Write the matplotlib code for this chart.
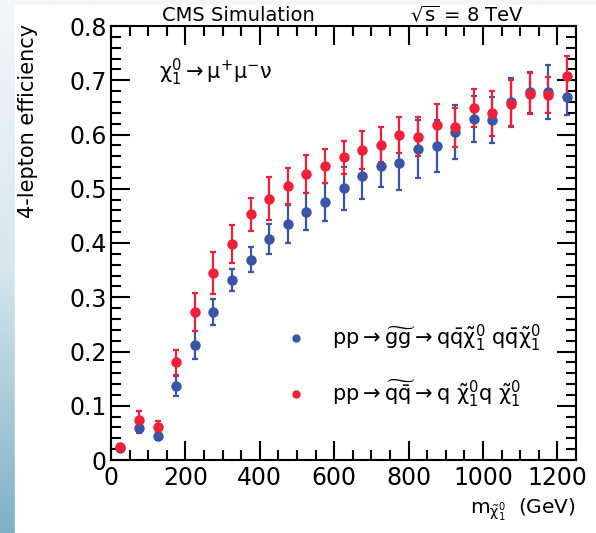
# 4-lepton efficiency vs neutralino mass, CMS simulation style

import numpy as np
import matplotlib.pyplot as plt
from matplotlib.lines import Line2D
from matplotlib.patches import Rectangle
from matplotlib.colors import LinearSegmentedColormap
from matplotlib.ticker import MultipleLocator

plt.rcParams['font.family'] = ['DejaVu Sans']
plt.rcParams['mathtext.fontset'] = 'dejavusans'
plt.rcParams['mathtext.default'] = 'regular'

mass = [25, 75, 125, 175, 225, 275, 325, 375, 425, 475, 525, 575, 625,
        675, 725, 775, 825, 875, 925, 975, 1025, 1075, 1125, 1175, 1225]

eff_gluino = [0.022, 0.059, 0.044, 0.136, 0.212, 0.273, 0.332, 0.369, 0.407,
              0.435, 0.458, 0.476, 0.501, 0.523, 0.542, 0.547, 0.573, 0.578,
              0.604, 0.629, 0.627, 0.660, 0.678, 0.679, 0.669]
err_gluino = [0.005, 0.010, 0.008, 0.018, 0.025, 0.024, 0.020, 0.023, 0.028,
              0.035, 0.034, 0.035, 0.040, 0.041, 0.038, 0.049, 0.053, 0.048,
              0.050, 0.042, 0.042, 0.045, 0.038, 0.050, 0.033]

eff_squark = [0.024, 0.074, 0.060, 0.180, 0.273, 0.345, 0.399, 0.453, 0.482,
              0.505, 0.528, 0.542, 0.558, 0.571, 0.581, 0.599, 0.596, 0.617,
              0.613, 0.648, 0.639, 0.657, 0.675, 0.673, 0.708]
err_squark = [0.005, 0.016, 0.012, 0.023, 0.035, 0.039, 0.035, 0.030, 0.039,
              0.033, 0.035, 0.031, 0.030, 0.035, 0.032, 0.033, 0.036, 0.040,
              0.036, 0.035, 0.042, 0.044, 0.038, 0.033, 0.037]

blue = '#3a55a6'
red = '#f0203a'

fig = plt.figure(figsize=(5.96, 5.33), dpi=100)

# slide background: blue gradient strip on the left / top
bg = fig.add_axes([0, 0, 1, 1], zorder=-10)
grad = np.linspace(0, 1, 256).reshape(-1, 1)
bg.imshow(grad, aspect='auto', extent=[0, 1, 0, 1], origin='upper',
          cmap=LinearSegmentedColormap.from_list(
              'bgc', ['#f2f7fa', '#d6e7ef', '#7fb1c6']))
bg.add_patch(Rectangle((15 / 596, 0), 1, 1 - 5 / 533, color='white'))
bg.set_xlim(0, 1)
bg.set_ylim(0, 1)
bg.axis('off')

ax = fig.add_axes([111 / 596, 1 - 460 / 533, 465 / 596, 434 / 533])

ax.errorbar(mass, eff_gluino, yerr=err_gluino, fmt='o', color=blue,
            markersize=6.5, elinewidth=1.6, capsize=2.5, capthick=1.6)
ax.errorbar(mass, eff_squark, yerr=err_squark, fmt='o', color=red,
            markersize=6.5, elinewidth=1.6, capsize=2.5, capthick=1.6)

ax.set_xlim(0, 1250)
ax.set_ylim(0, 0.8)
ax.xaxis.set_major_locator(MultipleLocator(200))
ax.xaxis.set_minor_locator(MultipleLocator(50))
ax.yaxis.set_minor_locator(MultipleLocator(0.02))
ax.set_yticks([0, 0.1, 0.2, 0.3, 0.4, 0.5, 0.6, 0.7, 0.8])
ax.set_yticklabels(['0', '0.1', '0.2', '0.3', '0.4', '0.5', '0.6', '0.7', '0.8'])
ax.tick_params(which='both', direction='in', top=True, right=True,
               labelsize=17, width=1.5)
ax.tick_params(axis='x', pad=4)
ax.tick_params(axis='y', pad=3)
ax.tick_params(which='major', length=14)
ax.tick_params(which='minor', length=7)
for s in ax.spines.values():
    s.set_linewidth(1.5)

ax.text(0.275, 1.012, 'CMS Simulation', transform=ax.transAxes,
        ha='center', va='baseline', fontsize=14)
ax.text(0.765, 1.012, r'$\sqrt{s}$ = 8 TeV', transform=ax.transAxes,
        ha='center', va='baseline', fontsize=14)
ax.text(130, 0.715, r'$\chi^0_1 \rightarrow \mu^{+}\mu^{-}\nu$', fontsize=15,
        ha='left', va='center')

handles = [
    Line2D([], [], marker='o', ls='none', color=blue, markersize=5),
    Line2D([], [], marker='o', ls='none', color=red, markersize=5),
]
labels = [
    r'$\mathrm{pp} \rightarrow \widetilde{\mathrm{gg}} \rightarrow '
    r'\mathrm{q\bar{q}}\tilde{\chi}^0_1\ \mathrm{q\bar{q}}\tilde{\chi}^0_1$',
    r'$\mathrm{pp} \rightarrow \widetilde{\mathrm{q}\bar{\mathrm{q}}} \rightarrow '
    r'\mathrm{q}\ \tilde{\chi}^0_1\mathrm{q}\ \tilde{\chi}^0_1$',
]
ax.legend(handles, labels, loc='center left', bbox_to_anchor=(0.331, 0.2166),
          frameon=False, fontsize=15, labelspacing=1.1, handletextpad=0.7,
          borderpad=0)

fig.text(28 / 596, 1 - 24 / 533, '4-lepton efficiency', rotation=90,
         ha='center', va='top', fontsize=15)
ax.text(1.0, -0.085, r'$m_{\tilde{\chi}^0_1}$  (GeV)', transform=ax.transAxes,
        ha='right', va='top', fontsize=14.5)

fig.savefig('out.png', dpi=100)
